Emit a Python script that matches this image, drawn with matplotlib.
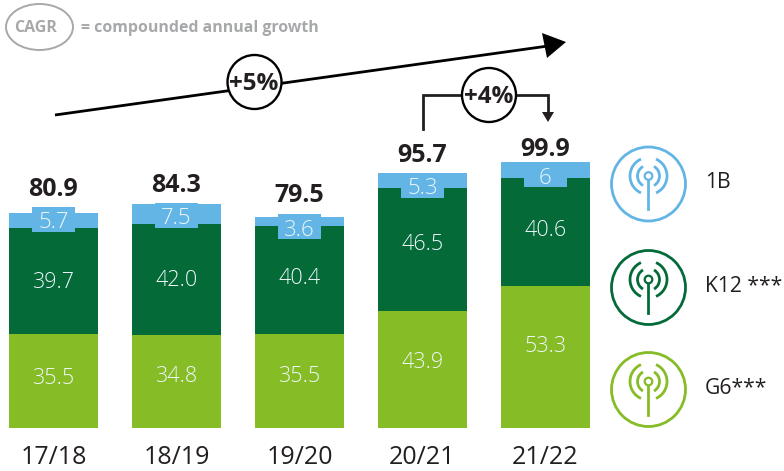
import matplotlib
matplotlib.use('Agg')
import matplotlib.pyplot as plt
import numpy as np
from matplotlib.patches import Arc, Circle, Ellipse, Polygon, Rectangle

plt.rcParams['font.family'] = ['Open Sans', 'DejaVu Sans']

years = ['17/18', '18/19', '19/20', '20/21', '21/22']
g6 = [35.5, 34.8, 35.5, 43.9, 53.3]
k12 = [39.7, 42.0, 40.4, 46.5, 40.6]
b1 = [5.7, 7.5, 3.6, 5.3, 6]
totals = [80.9, 84.3, 79.5, 95.7, 99.9]
b1_labels = ['5.7', '7.5', '3.6', '5.3', '6']
g6_labels = ['35.5', '34.8', '35.5', '43.9', '53.3']
k12_labels = ['39.7', '42.0', '40.4', '46.5', '40.6']
legend_names = ['1B', 'K12 ***', 'G6***']

light_blue = '#62b5e5'
dark_green = '#046a38'
light_green = '#86bc25'
label_col = '#eef7fb'
dark = '#231f20'
grey = '#a7a8aa'

W, H = 784, 471
fig = plt.figure(figsize=(W / 100, H / 100), dpi=100)

# bars: one category step = 123px, y scale about 2.66px per unit, baseline at y=428
ax = fig.add_axes([0, (H - 428) / H, 1, 428 / H])
x = np.arange(len(years))
ax.set_xlim(-53.5 / 123, (W - 53.5) / 123)
ax.set_ylim(0, 428 / 2.66)
w = 89 / 123
ax.bar(x, g6, w, color=light_green)
ax.bar(x, k12, w, bottom=g6, color=dark_green)
bottom2 = np.array(g6) + np.array(k12)
ax.bar(x, b1, w, bottom=bottom2, color=light_blue)

ax.set_xticks(x, years)
ax.tick_params(axis='x', length=0, labelsize=18, labelcolor=dark, pad=12)
ax.set_yticks([])
for s in ax.spines.values():
    s.set_visible(False)
ax.patch.set_alpha(0)

# overlay in pixel coords for the callouts and icons
ov = fig.add_axes([0, 0, 1, 1])
ov.set_xlim(0, W)
ov.set_ylim(H, 0)
ov.axis('off')
ov.patch.set_alpha(0)

# label heights as placed in the picture
g6_y = [379, 377, 376, 363, 346]
k12_y = [283, 280, 279, 245, 230]
total_y = [189, 185, 195, 155, 149]
tab_top = [207, 203, 214, 173, 162]
cxs = 53.5 + 123 * x
for i in x:
    cx = cxs[i]
    ov.add_patch(Rectangle((cx - 21.5, tab_top[i]), 43, 25, color=light_blue, lw=0))
    ov.text(cx, tab_top[i] + 16, b1_labels[i], color=label_col, fontsize=16, fontweight='light', ha='center', va='center')
    ov.text(cx, g6_y[i], g6_labels[i], color=label_col, fontsize=15.5, fontweight='light', ha='center', va='center')
    ov.text(cx, k12_y[i], k12_labels[i], color=label_col, fontsize=15.5, fontweight='light', ha='center', va='center')
    ov.text(cx, total_y[i], '%.1f' % totals[i], color=dark, fontsize=18, fontweight='bold', ha='center', va='center')

# CAGR key
ov.add_patch(Ellipse((39.5, 27), 67, 46, fc='none', ec=grey, lw=1.4))
ov.text(36, 28, 'CAGR', color=grey, fontsize=11.5, fontweight='bold', ha='center', va='center')
ov.text(81, 27.5, '= compounded annual growth', color=grey, fontsize=11.4, fontweight='bold', ha='left', va='center')

# +5% arrow
ov.plot([55, 548], [115, 46], color='black', lw=2, solid_capstyle='butt')
ov.add_patch(Polygon([[566, 42], [542, 33], [547, 58]], color='black', lw=0))
ov.add_patch(Circle((254.5, 82), 27, fc='white', ec='black', lw=1.7, zorder=3))
ov.text(253.5, 84, '+5%', color=dark, fontsize=17.5, fontweight='bold', ha='center', va='center', zorder=4)

# +4% bracket
ov.plot([423, 423, 548, 548], [129, 94.5, 94.5, 113], color=dark, lw=2, solid_joinstyle='miter')
ov.add_patch(Polygon([[548, 122], [542, 112], [554, 112]], color=dark, lw=0))
ov.add_patch(Circle((489, 95), 27, fc='white', ec='black', lw=1.7, zorder=3))
ov.text(489, 97, '+4%', color=dark, fontsize=17.5, fontweight='bold', ha='center', va='center', zorder=4)

# legend icons
icon_y = [184, 287.5, 389.5]
icon_col = [light_blue, dark_green, light_green]
for name, cy, c in zip(legend_names, icon_y, icon_col):
    cx = 648.5
    ov.add_patch(Circle((cx, cy), 37, fc='none', ec=c, lw=2))
    ov.add_patch(Circle((cx, cy - 8), 3.8, fc='none', ec=c, lw=1.6))
    ov.plot([cx, cx], [cy - 4, cy + 25], color=c, lw=2)
    for r, a in ((22, 60), (37, 66)):
        ov.add_patch(Arc((cx, cy - 8), r, r, theta1=-a, theta2=a, color=c, lw=2))
        ov.add_patch(Arc((cx, cy - 8), r, r, theta1=180 - a, theta2=180 + a, color=c, lw=2))
    ov.text(705, cy - 1, name, color=dark, fontsize=15.2, ha='left', va='center')

fig.savefig('out.png', dpi=100)
